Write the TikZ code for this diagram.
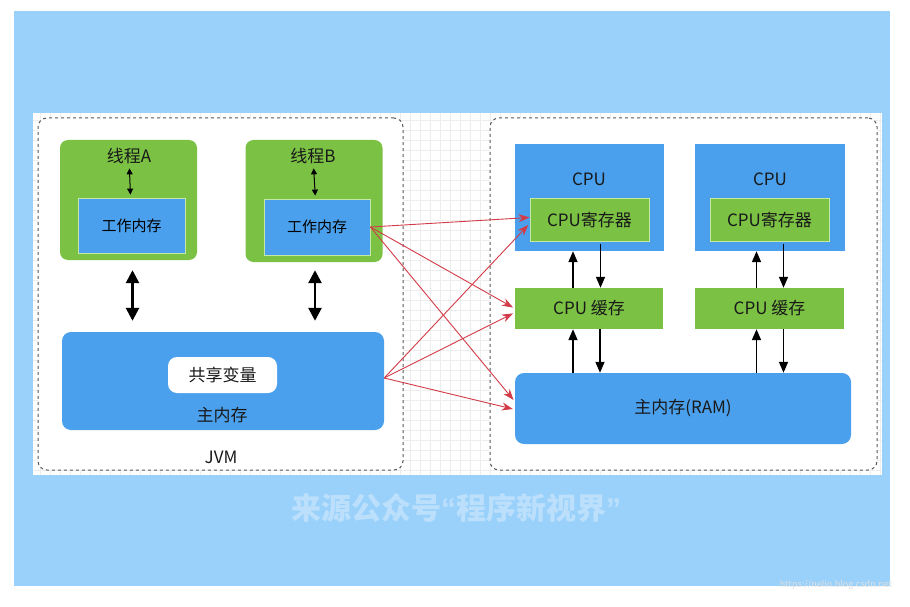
\documentclass[tikz,border=0pt]{standalone}
\usepackage{fontspec}
\setmainfont{Noto Sans CJK SC}
\newfontfamily\quotefont{Liberation Sans}
\usetikzlibrary{arrows.meta,positioning}
\definecolor{bgblue}{HTML}{99D1FB}
\definecolor{markblue}{HTML}{BCE0FB}
\definecolor{boxblue}{HTML}{4AA0EC}
\definecolor{boxgreen}{HTML}{7BC244}
\definecolor{rimgreen}{HTML}{C4E8A6}
\definecolor{linkred}{HTML}{D23B47}
\definecolor{gridgray}{HTML}{EDEDED}

\begin{document}
\begin{tikzpicture}[x=1pt,y=-1pt,
    txt/.style={font=\fontsize{17}{20}\selectfont,text=black!90},
    frame/.style={draw=black!65,dashed,line width=1pt,rounded corners=9pt,fill=white},
    thread/.style={fill=boxgreen,rounded corners=8pt},
    wmem/.style={fill=boxblue,draw=rimgreen,line width=0.8pt,font=\fontsize{15}{18}\selectfont},
    cpubox/.style={fill=boxblue},
    regbox/.style={fill=boxgreen,draw=rimgreen,line width=0.8pt,txt},
    cachebox/.style={fill=boxgreen,txt},
    ram/.style={fill=boxblue,rounded corners=9pt,txt},
    small link/.style={<->,>={Triangle[width=6pt,length=6pt]},line width=1pt},
    big link/.style={<->,>={Triangle[width=13pt,length=13pt]},line width=2.6pt},
    bus/.style={->,>={Triangle[width=9pt,length=11pt]},line width=1.6pt},
    copy/.style={->,>={Stealth[width=8pt,length=11pt]},draw=linkred,line width=0.9pt}]

  \useasboundingbox (0,0) rectangle (910,607);
  \fill[white] (0,0) rectangle (910,607);
  \fill[bgblue] (14,11) rectangle (890,586);
  \fill[white] (33,113) rectangle (882,475);

  % Background grid
  \foreach \gx in {40,50,...,880}
    \draw[gridgray,line width=0.4pt] (\gx,113) -- (\gx,475);
  \foreach \gy in {120,130,...,470}
    \draw[gridgray,line width=0.4pt] (33,\gy) -- (882,\gy);

  % Define frames
  \node[frame,minimum width=365pt,minimum height=352pt] (jvm) at (220.5,294) {};
  \node[frame,minimum width=387pt,minimum height=352pt] (hw) at (683.5,294) {};
  \node[txt] (jvmlabel) at (221,457) {JVM};

  % Define threads
  \node[thread,minimum width=137pt,minimum height=120pt] (thrA) at (128.5,200) {};
  \node[thread,minimum width=137pt,minimum height=122pt] (thrB) at (314,201) {};
  \node[txt] (nameA) at (129,156) {线程A};
  \node[txt] (nameB) at (313,156) {线程B};
  \node[wmem,minimum width=107pt,minimum height=55pt] (wmA) at (131.5,225.5) {工作内存};
  \node[wmem,minimum width=106pt,minimum height=56pt] (wmB) at (317,227) {工作内存};

  % Define main memory
  \node[ram,minimum width=322pt,minimum height=98pt] (mm) at (223,381) {};
  \node[fill=white,rounded corners=9pt,minimum width=109pt,minimum height=36pt,txt] (shared) at (222.5,375) {共享变量};
  \node[txt] (mmlabel) at (222,415) {主内存};

  % Define processors
  \node[cpubox,minimum width=149pt,minimum height=107pt] (cpu1) at (589.5,197.5) {};
  \node[cpubox,minimum width=150pt,minimum height=107pt] (cpu2) at (770,197.5) {};
  \node[txt] (cpuname1) at (589,179) {CPU};
  \node[txt] (cpuname2) at (770,179) {CPU};
  \node[regbox,minimum width=119pt,minimum height=43pt] (reg1) at (589.5,219.5) {CPU寄存器};
  \node[regbox,minimum width=119pt,minimum height=43pt] (reg2) at (769.5,219.5) {CPU寄存器};
  \node[cachebox,minimum width=148pt,minimum height=41pt] (cache1) at (589,308.5) {CPU 缓存};
  \node[cachebox,minimum width=149pt,minimum height=41pt] (cache2) at (769.5,308.5) {CPU 缓存};
  \node[ram,minimum width=336pt,minimum height=71pt] (ram) at (683,408.5) {主内存(RAM)};

  % Draw thread arrows
  \path
    (nameA) edge[small link, shorten <=1pt, shorten >=3pt] (wmA)
    (nameB) edge[small link, shorten <=1pt, shorten >=3pt] (wmB)
    ([xshift=4pt]thrA.south) edge[big link, shorten <=10pt, shorten >=11pt] ([xshift=4pt]thrA.south |- mm.north)
    ([xshift=1pt]thrB.south) edge[big link, shorten <=8pt, shorten >=11pt] ([xshift=1pt]thrB.south |- mm.north);

  % Draw bus arrows
  \path
    ([xshift=-16pt]cache1.north) edge[bus] ([xshift=-16pt]cache1.north |- cpu1.south)
    ([xshift=11pt]reg1.south) edge[bus, shorten <=3pt] ([xshift=11pt]reg1.south |- cache1.north)
    ([xshift=-16pt]ram.north -| cache1.north) edge[bus] ([xshift=-16pt]cache1.south)
    ([xshift=11pt]cache1.south) edge[bus] ([xshift=11pt]cache1.south |- ram.north)
    ([xshift=-13pt]cache2.north) edge[bus] ([xshift=-13pt]cache2.north |- cpu2.south)
    ([xshift=14pt]reg2.south) edge[bus, shorten <=3pt] ([xshift=14pt]reg2.south |- cache2.north)
    ([xshift=-13pt]ram.north -| cache2.north) edge[bus] ([xshift=-13pt]cache2.south)
    ([xshift=14pt]cache2.south) edge[bus] ([xshift=14pt]cache2.south |- ram.north);

  % Draw red arrows
  \path
    (wmB.east) edge[copy] ([yshift=2pt]reg1.west)
    (wmB.east) edge[copy, shorten >=2pt] (cache1.west)
    (wmB.east) edge[copy, shorten >=2pt] ([yshift=7pt]ram.west)
    ([yshift=3pt]mm.east) edge[copy, shorten >=2pt] ([yshift=-4pt]reg1.west)
    ([yshift=3pt]mm.east) edge[copy, shorten >=2pt] ([yshift=-4pt]cache1.west)
    ([yshift=3pt]mm.east) edge[copy, shorten >=2pt] ([yshift=-1pt]ram.west);

  % Watermarks
  \node[font=\fontsize{30}{34}\selectfont\bfseries,text=markblue] (mark) at (456,508) {来源公众号{\quotefont\bfseries “}程序新视界{\quotefont\bfseries ”}};
  \node[font=\fontsize{9}{11}\selectfont,text=black!12] (url) at (836,585) {https://nelin.blog.csdn.net};
\end{tikzpicture}
\end{document}
